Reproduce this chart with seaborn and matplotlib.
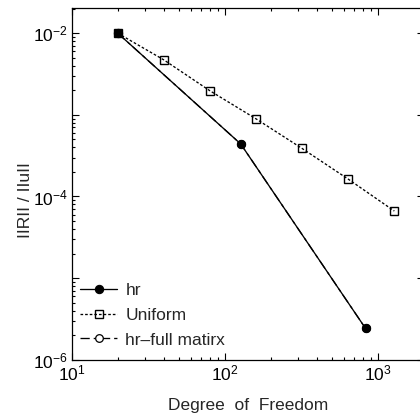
import matplotlib
matplotlib.use("Agg")
import matplotlib.pyplot as plt
import seaborn as sns
import numpy as np
from matplotlib.ticker import LogLocator, FixedLocator, FixedFormatter, NullFormatter

# ---- data ----
hr_dof = [20, 127, 830]
hr_err = [1.0e-2, 4.4e-4, 2.42e-6]
uni_dof = [20, 40, 80, 160, 320, 640, 1280]
uni_err = [1.0e-2, 4.71e-3, 1.97e-3, 8.93e-4, 3.87e-4, 1.63e-4, 6.63e-5]
full_dof = [20, 127, 830]
full_err = [1.0e-2, 4.4e-4, 2.42e-6]
series_labels = ["hr", "Uniform", "hr\u2013full matirx"]
ytick_vals = [1e-6, 1e-5, 1e-4, 1e-3, 1e-2]
ytick_labels = [r"$\mathdefault{10^{-6}}$", "", r"$\mathdefault{10^{-4}}$", "", r"$\mathdefault{10^{-2}}$"]
xtick_vals = [10, 100, 1000]
xtick_labels = [r"$\mathdefault{10^{1}}$", r"$\mathdefault{10^{2}}$", r"$\mathdefault{10^{3}}$"]
xlabel = "Degree  of  Freedom"
ylabel = "IIRII / IIuII"

sns.set_style("ticks")
plt.rcParams["font.family"] = ["Liberation Sans", "DejaVu Sans"]
plt.rcParams["mathtext.fontset"] = "custom"
plt.rcParams["mathtext.rm"] = "Liberation Sans"
plt.rcParams["mathtext.it"] = "Liberation Sans:italic"

fig = plt.figure(figsize=(4.2, 4.17), dpi=100)
W, H = 420, 417
left, right, top, bottom = 71.7, 424, 8.3, 359.7
ax = fig.add_axes([left / W, (H - bottom) / H, (right - left) / W, (bottom - top) / H])

lw = 0.95
sns.lineplot(x=full_dof, y=full_err, ax=ax, color="black", linewidth=lw,
             linestyle=(0, (7, 3, 2.5, 3)), marker="o", markersize=5.5,
             markerfacecolor="white", markeredgecolor="black", markeredgewidth=0.9,
             label=series_labels[2], estimator=None, sort=False, zorder=1)
sns.lineplot(x=hr_dof, y=hr_err, ax=ax, color="black", linewidth=lw,
             linestyle="-", marker="o", markersize=6,
             markerfacecolor="black", markeredgecolor="black",
             label=series_labels[0], estimator=None, sort=False, zorder=2)
sns.lineplot(x=uni_dof, y=uni_err, ax=ax, color="black", linewidth=lw,
             linestyle=(0, (2, 1.5)), marker="s", markersize=5.8,
             markerfacecolor="none", markeredgecolor="black", markeredgewidth=1.0,
             label=series_labels[1], estimator=None, sort=False, zorder=3)

ax.set_xscale("log")
ax.set_yscale("log")
ax.set_xlim(10, 2000)
ax.set_ylim(1e-6, 2.02e-2)

ax.yaxis.set_major_locator(FixedLocator(ytick_vals))
ax.yaxis.set_major_formatter(FixedFormatter(ytick_labels))
ax.yaxis.set_minor_locator(LogLocator(base=10, subs=np.arange(2, 10), numticks=20))
ax.yaxis.set_minor_formatter(NullFormatter())
ax.xaxis.set_major_locator(FixedLocator(xtick_vals))
ax.xaxis.set_major_formatter(FixedFormatter(xtick_labels))
ax.xaxis.set_minor_locator(LogLocator(base=10, subs=np.arange(2, 10), numticks=20))
ax.xaxis.set_minor_formatter(NullFormatter())

ax.tick_params(which="both", direction="in", top=True, right=True, width=0.8, colors="black")
ax.tick_params(which="major", length=5, labelsize=12.5, pad=3)
ax.tick_params(which="minor", length=2.5)
for s in ax.spines.values():
    s.set_linewidth(0.9)
    s.set_color("black")

ax.set_xlabel(xlabel, fontsize=12.5, labelpad=10)
ax.set_ylabel(ylabel, fontsize=12.5)
ax.yaxis.set_label_coords(-0.11, 0.454)

handles, labels = ax.get_legend_handles_labels()
order = [labels.index(l) for l in series_labels]
ax.legend([handles[i] for i in order], [labels[i] for i in order],
          loc="lower left", bbox_to_anchor=(-0.01, 0.0), frameon=False,
          fontsize=12.5, handlelength=2.1, handletextpad=0.5, labelspacing=0.55,
          borderaxespad=0.3)

fig.savefig("out.png", dpi=100)
